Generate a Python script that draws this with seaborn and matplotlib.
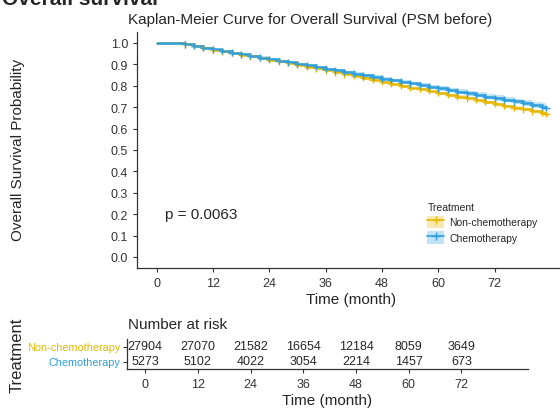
import numpy as np
import pandas as pd
import matplotlib
matplotlib.use("Agg")
import matplotlib.pyplot as plt
import seaborn as sns
from matplotlib.lines import Line2D
from matplotlib.patches import Patch

# KM estimates (months)
times = [0, 6, 8, 10, 12, 14, 16, 18, 20, 22, 24, 26, 28, 30, 32, 34, 36, 38, 40,
         42, 44, 46, 48, 50, 52, 54, 56, 58, 60, 62, 64, 66, 68, 70, 72, 74, 76,
         78, 80, 82, 83]
surv_nonchemo = [1.0, .993, .985, .977, .969, .961, .953, .945, .938, .930, .922,
                 .914, .907, .899, .890, .881, .872, .863, .854, .845, .837, .828,
                 .819, .810, .801, .792, .784, .775, .767, .758, .750, .741, .733,
                 .724, .715, .707, .698, .690, .681, .673, .668]
surv_chemo = [1.0, .993, .985, .977, .970, .962, .955, .947, .939, .932, .925,
              .917, .910, .902, .895, .887, .879, .872, .864, .857, .849, .842,
              .834, .826, .819, .811, .803, .796, .788, .781, .773, .765, .758,
              .750, .743, .735, .727, .719, .711, .702, .696]
ci_nonchemo = [0, .001, .001, .001, .001, .001, .002, .002, .002, .002, .002, .002,
               .002, .003, .003, .003, .003, .003, .003, .003, .003, .003, .004,
               .004, .004, .004, .004, .004, .004, .004, .005, .005, .005, .005,
               .005, .005, .006, .006, .006, .007, .007]
ci_chemo = [0, .002, .002, .003, .003, .003, .004, .004, .004, .005, .005, .005,
            .005, .006, .006, .006, .006, .007, .007, .007, .007, .008, .008, .008,
            .008, .009, .009, .009, .010, .010, .010, .011, .011, .012, .012, .013,
            .013, .014, .015, .016, .017]

risk_times = [0, 12, 24, 36, 48, 60, 72]
risk_nonchemo = [27904, 27070, 21582, 16654, 12184, 8059, 3649]
risk_chemo = [5273, 5102, 4022, 3054, 2214, 1457, 673]

groups = ["Non-chemotherapy", "Chemotherapy"]
palette = {"Non-chemotherapy": "#E7B800", "Chemotherapy": "#2E9FDF"}

df = pd.concat([
    pd.DataFrame({"time": times, "surv": surv_nonchemo, "ci": ci_nonchemo, "Treatment": groups[0]}),
    pd.DataFrame({"time": times, "surv": surv_chemo, "ci": ci_chemo, "Treatment": groups[1]}),
], ignore_index=True)

sns.set_style("ticks")
plt.rcParams["font.family"] = ["Liberation Sans", "DejaVu Sans"]
dark = "#333333"

fig = plt.figure(figsize=(5.6, 4.1), dpi=100)

# main KM panel
ax = fig.add_axes([137 / 560, 1 - 268.7 / 410, 429 / 560, 235.4 / 410])
for g in groups:
    d = df[df["Treatment"] == g]
    ax.fill_between(d["time"], d["surv"] - d["ci"], d["surv"] + d["ci"],
                    step="post", color=palette[g], alpha=0.3, lw=0)
sns.lineplot(data=df, x="time", y="surv", hue="Treatment", hue_order=groups,
             palette=palette, drawstyle="steps-post", estimator=None, sort=False,
             errorbar=None, legend=False, lw=1.8, ax=ax)
sns.scatterplot(data=df[df["time"] > 0], x="time", y="surv", hue="Treatment",
                hue_order=groups, palette=palette, marker="+", s=22, linewidth=1.0,
                legend=False, ax=ax, zorder=3)

ax.set_xlim(-4.15, 87.15)
ax.set_ylim(-0.05, 1.05)
ax.set_xticks(risk_times)
ax.set_yticks([0, .1, .2, .3, .4, .5, .6, .7, .8, .9, 1.0])
ax.set_yticklabels(["0.0", "0.1", "0.2", "0.3", "0.4", "0.5", "0.6", "0.7", "0.8", "0.9", "1.0"])
ax.tick_params(labelsize=9, length=3, color=dark, labelcolor=dark, width=0.8)
ax.set_xlabel("Time (month)", fontsize=11, labelpad=2)
ax.set_ylabel("")
for s in ["left", "bottom"]:
    ax.spines[s].set_color(dark)
    ax.spines[s].set_linewidth(0.9)
sns.despine(ax=ax)
ax.text(1.9, 0.2, "p = 0.0063", fontsize=11, ha="left", va="center")

fig.text(18 / 560, 1 - 150 / 410, "Overall Survival Probability", rotation=90,
         fontsize=11, ha="center", va="center")
fig.text(128 / 560, 1 - 20 / 410, "Kaplan-Meier Curve for Overall Survival (PSM before)",
         fontsize=11, ha="left", va="center")
fig.text(0.004, 1 - 5 / 410, "Overall survival", fontsize=15, fontweight="bold",
         ha="left", va="baseline")

handles = [(Patch(facecolor=palette[g], alpha=0.3, lw=0),
            Line2D([], [], color=palette[g], marker="+", lw=1.2, ms=6)) for g in groups]
fig.legend(handles, groups, loc="upper left", bbox_to_anchor=(418 / 560, 1 - 194 / 410),
           frameon=False, title="Treatment", fontsize=7.5, title_fontsize=7.5,
           alignment="left", handlelength=1.6, handleheight=1.5, labelspacing=0.3,
           handletextpad=0.5)

# risk table
rax = fig.add_axes([127 / 560, 1 - 370 / 410, 401 / 560, 30 / 410])
rax.set_xlim(-4.15, 87.15)
rax.set_ylim(-0.5, 1.5)
for t, n1, n2 in zip(risk_times, risk_nonchemo, risk_chemo):
    rax.text(t, 1, str(n1), fontsize=9, ha="center", va="center")
    rax.text(t, 0, str(n2), fontsize=9, ha="center", va="center")
rax.set_xticks(risk_times)
rax.set_yticks([1, 0])
rax.set_yticklabels(groups)
rax.tick_params(axis="y", labelsize=7.8, length=3, color=dark, pad=2)
rax.tick_params(axis="x", labelsize=9, length=3, color=dark, labelcolor=dark)
for lab, g in zip(rax.get_yticklabels(), groups):
    lab.set_color(palette[g])
for s in ["left", "bottom"]:
    rax.spines[s].set_color(dark)
    rax.spines[s].set_linewidth(0.9)
sns.despine(ax=rax)
rax.set_xlabel("Time (month)", fontsize=11, labelpad=2)
fig.text(128 / 560, 1 - 325 / 410, "Number at risk", fontsize=11, ha="left", va="center")
fig.text(17 / 560, 1 - 355 / 410, "Treatment", rotation=90, fontsize=12,
         ha="center", va="center")

fig.savefig("out.png", dpi=100)
